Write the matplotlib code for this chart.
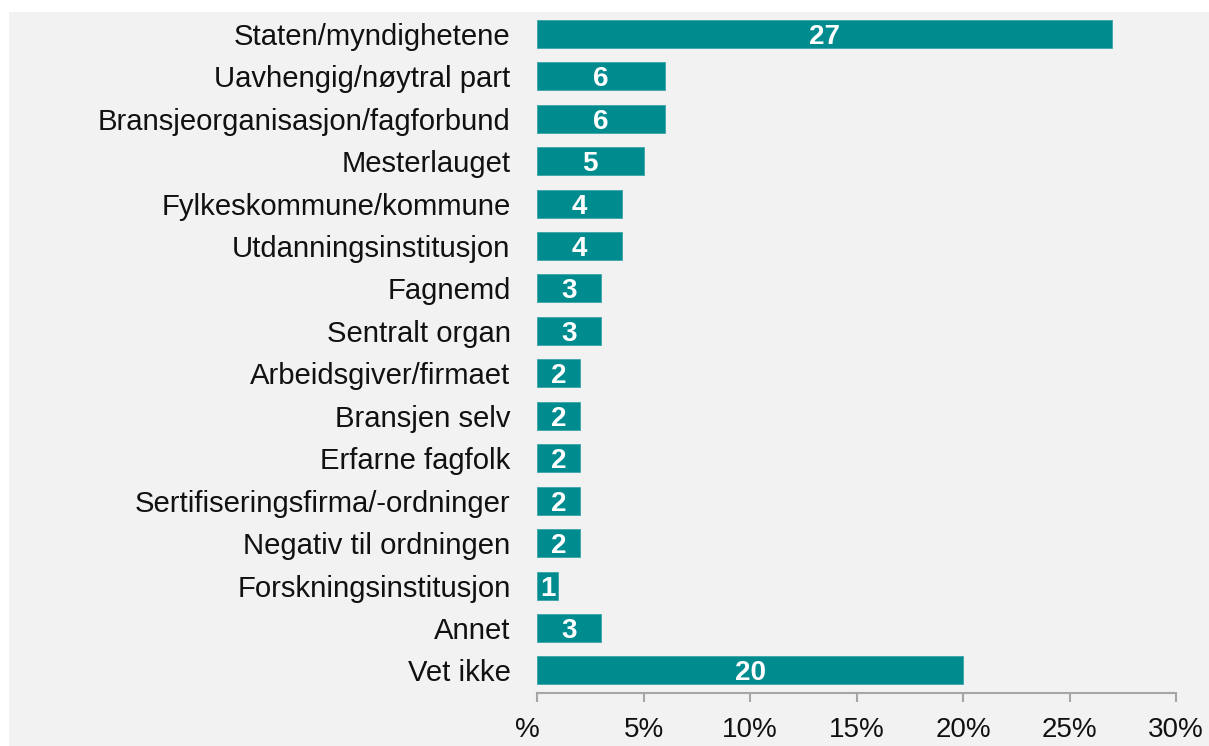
import matplotlib
matplotlib.use("Agg")
import matplotlib.pyplot as plt
import matplotlib.transforms as mtransforms
from matplotlib.patches import Rectangle

categories = [
    "Staten/myndighetene",
    "Uavhengig/nøytral part",
    "Bransjeorganisasjon/fagforbund",
    "Mesterlauget",
    "Fylkeskommune/kommune",
    "Utdanningsinstitusjon",
    "Fagnemd",
    "Sentralt organ",
    "Arbeidsgiver/firmaet",
    "Bransjen selv",
    "Erfarne fagfolk",
    "Sertifiseringsfirma/-ordninger",
    "Negativ til ordningen",
    "Forskningsinstitusjon",
    "Annet",
    "Vet ikke",
]
values = [27, 6, 6, 5, 4, 4, 3, 3, 2, 2, 2, 2, 2, 1, 3, 20]
xticks = [0, 5, 10, 15, 20, 25, 30]
xticklabels = ["%", "5%", "10%", "15%", "20%", "25%", "30%"]

plt.rcParams["font.family"] = ["Liberation Sans", "DejaVu Sans"]

W, H = 1209, 746
fig = plt.figure(figsize=(W / 100, H / 100), dpi=100, facecolor="white")
bg = Rectangle((9 / W, 0), 1 - 9 / W, 1 - 12 / H, transform=fig.transFigure,
               facecolor="#f2f2f2", edgecolor="none", zorder=-10)
fig.patches.append(bg)

left = 537 / W
right = 1176 / W
bottom = 1 - 692.5 / H
top = 1 - 12.5 / H
ax = fig.add_axes([left, bottom, right - left, top - bottom])
ax.set_facecolor("none")
ax.set_zorder(1)

color = "#008C8F"
ypos = list(range(len(categories)))
bars = ax.barh(ypos, values, height=0.66, color=color, edgecolor="#3aa5a8",
               linewidth=0.6)

label_shift = mtransforms.ScaledTranslation(0, -10 / 100, fig.dpi_scale_trans)
for y, v in zip(ypos, values):
    ax.text(v / 2, y, str(v), ha="center", va="baseline", color="white",
            fontsize=20, fontweight="bold",
            transform=ax.transData + label_shift)

ax.set_ylim(len(categories) - 1 + 0.52, -0.5)
ax.set_xlim(0, 30)
ax.set_yticks(ypos)
ax.set_yticklabels(categories, fontsize=21.1, color="#111111")
ax.tick_params(axis="y", length=0, pad=19)
ax.set_xticks(xticks)
ax.set_xticklabels(xticklabels, fontsize=20, color="#111111")
ax.tick_params(axis="x", length=6.5, width=1.5, color="#a6a6a6", pad=11,
               direction="out")

# shift "%" label slightly left as in reference
offset = mtransforms.ScaledTranslation(-10 / 100, 0, fig.dpi_scale_trans)
lbl0 = ax.get_xticklabels()[0]
lbl0.set_transform(lbl0.get_transform() + offset)

for s in ["top", "right", "left"]:
    ax.spines[s].set_visible(False)
ax.spines["bottom"].set_color("#a6a6a6")
ax.spines["bottom"].set_linewidth(1.5)

fig.savefig("out.png", dpi=100, facecolor="white")
